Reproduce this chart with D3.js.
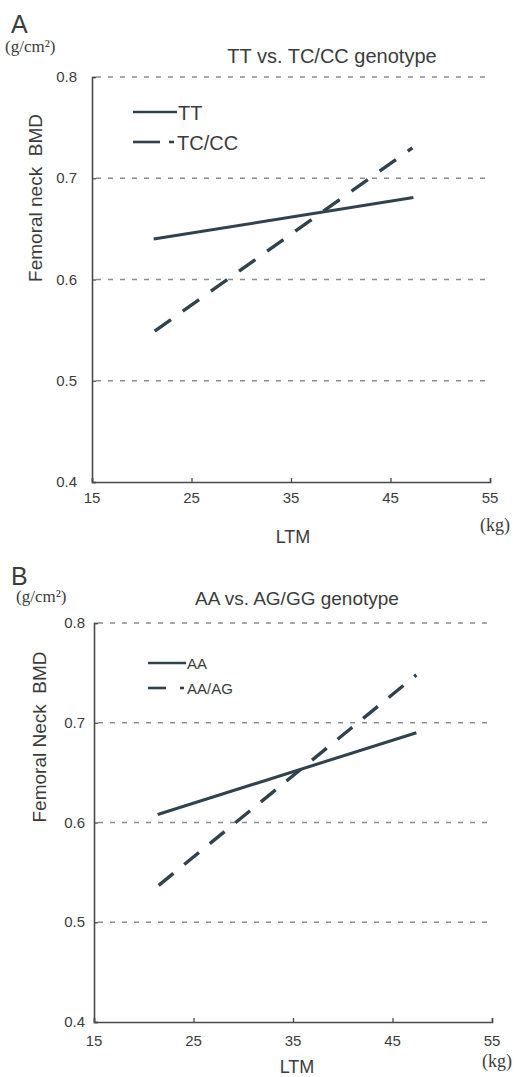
<!DOCTYPE html>
<html><head><meta charset="utf-8">
<script src="https://cdn.jsdelivr.net/npm/d3@7"></script>
<style>body{margin:0;background:#fff}svg{display:block}text{font-family:"Liberation Sans",Arial,sans-serif;fill:#3c3c3c}</style>
</head><body>
<script>
// ---- data ----
const xTicks = [15, 25, 35, 45, 55];
const yTicks = [0.4, 0.5, 0.6, 0.7, 0.8];
const gridValues = [0.5, 0.6, 0.7, 0.8];
const seriesNamesA = ["TT", "TC/CC"];
const seriesNamesB = ["AA", "AA/AG"];
const ltmA_TT = [21.2, 47.3];
const bmdA_TT = [0.640, 0.681];
const ltmA_TCCC = [21.3, 47.2];
const bmdA_TCCC = [0.549, 0.730];
const ltmB_AA = [21.4, 47.4];
const bmdB_AA = [0.608, 0.690];
const ltmB_AAAG = [21.5, 47.4];
const bmdB_AAAG = [0.537, 0.748];

const W = 517, H = 1077;
const svg = d3.select("body").append("svg").attr("width", W).attr("height", H);
const lineColor = "#30424d";

function panel(cfg) {
  const g = svg.append("g");
  const x = d3.scaleLinear().domain([15, 55]).range([cfg.x0, cfg.x1]);
  const y = d3.scaleLinear().domain([0.4, 0.8]).range([cfg.y0, cfg.y1]);

  g.append("text").attr("x", cfg.letterX).attr("y", cfg.letterY).attr("font-size", 25).text(cfg.letter);
  g.append("text").attr("x", cfg.unitX).attr("y", cfg.unitY).attr("font-size", 17)
    .style("font-family", "'Liberation Serif',serif").text("(g/cm²)");
  g.append("text").attr("x", cfg.titleX).attr("y", cfg.titleY).attr("text-anchor", "middle")
    .attr("font-size", cfg.titleSize).text(cfg.title);

  g.selectAll(".grid").data(gridValues).join("line")
    .attr("x1", x(15) + 4).attr("x2", x(55)).attr("y1", d => y(d)).attr("y2", d => y(d))
    .attr("stroke", "#8c8c8c").attr("stroke-width", 1.3).attr("stroke-dasharray", "5,7");

  const yAxis = d3.axisRight(y).tickValues(yTicks).tickSize(4).tickFormat("");
  const ya = g.append("g").attr("transform", `translate(${x(15)},0)`).call(yAxis);
  const xAxis = d3.axisTop(x).tickValues(xTicks).tickSize(4).tickFormat("");
  const xa = g.append("g").attr("transform", `translate(0,${y(0.4)})`).call(xAxis);
  [ya, xa].forEach(a => {
    a.select(".domain").attr("stroke", "#4a4a4a").attr("stroke-width", 1.6);
    a.selectAll(".tick line").attr("stroke", "#4a4a4a").attr("stroke-width", 1.3);
  });

  g.selectAll(".yl").data(yTicks).join("text")
    .attr("x", cfg.yLabRight).attr("y", d => y(d) + 5).attr("text-anchor", "end")
    .attr("font-size", 15).text(d => d3.format(".1f")(d));
  g.selectAll(".xl").data(xTicks).join("text")
    .attr("x", d => x(d)).attr("y", cfg.xLabY).attr("text-anchor", "middle")
    .attr("font-size", 15).text(d => d);
  g.append("text").attr("x", cfg.kgX).attr("y", cfg.kgY).attr("font-size", 18)
    .style("font-family", "'Liberation Serif',serif").text("(kg)");
  g.append("text").attr("x", cfg.ltmX).attr("y", cfg.ltmY).attr("text-anchor", "middle")
    .attr("font-size", 18).text("LTM");
  g.append("text").attr("transform", `translate(${cfg.ylabX},${cfg.ylabY}) rotate(-90)`)
    .attr("text-anchor", "middle").attr("font-size", 19).style("white-space", "pre")
    .text(cfg.ylab);

  const ln = d3.line().x(d => x(d[0])).y(d => y(d[1]));
  g.append("path").attr("d", ln(d3.zip(cfg.solidX, cfg.solidY)))
    .attr("fill", "none").attr("stroke", lineColor).attr("stroke-width", 3);
  g.append("path").attr("d", ln(d3.zip(cfg.dashX, cfg.dashY)))
    .attr("fill", "none").attr("stroke", lineColor).attr("stroke-width", 3.4)
    .attr("stroke-dasharray", cfg.dash);

  const L = cfg.legend;
  g.append("line").attr("x1", L.x0).attr("x2", L.x1).attr("y1", L.y1).attr("y2", L.y1)
    .attr("stroke", lineColor).attr("stroke-width", 2.6);
  g.append("text").attr("x", L.tx).attr("y", L.y1 + L.off).attr("font-size", L.fs).text(cfg.names[0]);
  g.append("line").attr("x1", L.x0).attr("x2", L.d1).attr("y1", L.y2).attr("y2", L.y2)
    .attr("stroke", lineColor).attr("stroke-width", 2.6);
  g.append("line").attr("x1", L.d2).attr("x2", L.d3).attr("y1", L.y2).attr("y2", L.y2)
    .attr("stroke", lineColor).attr("stroke-width", 2.6);
  g.append("text").attr("x", L.tx2).attr("y", L.y2 + L.off).attr("font-size", L.fs).text(cfg.names[1]);
}

panel({
  letter: "A", letterX: 11, letterY: 33, unitX: 5, unitY: 52,
  title: "TT vs. TC/CC genotype", titleX: 332, titleY: 63, titleSize: 20,
  x0: 92, x1: 490, y0: 482, y1: 77,
  yLabRight: 77, xLabY: 503, kgX: 480, kgY: 531, ltmX: 293, ltmY: 543,
  ylab: "Femoral neck  BMD", ylabX: 42, ylabY: 198,
  solidX: ltmA_TT, solidY: bmdA_TT, dashX: ltmA_TCCC, dashY: bmdA_TCCC, dash: "20,14.5",
  names: seriesNamesA,
  legend: { x0: 133, x1: 177, y1: 112, tx: 178, off: 8, fs: 20, y2: 142, d1: 160, d2: 169, d3: 174, tx2: 177 }
});

panel({
  letter: "B", letterX: 11, letterY: 585, unitX: 16, unitY: 602,
  title: "AA vs. AG/GG genotype", titleX: 297, titleY: 605, titleSize: 19,
  x0: 94, x1: 492, y0: 1022, y1: 623,
  yLabRight: 85, xLabY: 1046, kgX: 482, kgY: 1067, ltmX: 297, ltmY: 1073,
  ylab: "Femoral Neck  BMD", ylabX: 46, ylabY: 737,
  solidX: ltmB_AA, solidY: bmdB_AA, dashX: ltmB_AAAG, dashY: bmdB_AAAG, dash: "19,14",
  names: seriesNamesB,
  legend: { x0: 148, x1: 186, y1: 663, tx: 187, off: 6, fs: 15, y2: 688, d1: 166, d2: 180, d3: 184, tx2: 187 }
});
</script>
</body></html>
